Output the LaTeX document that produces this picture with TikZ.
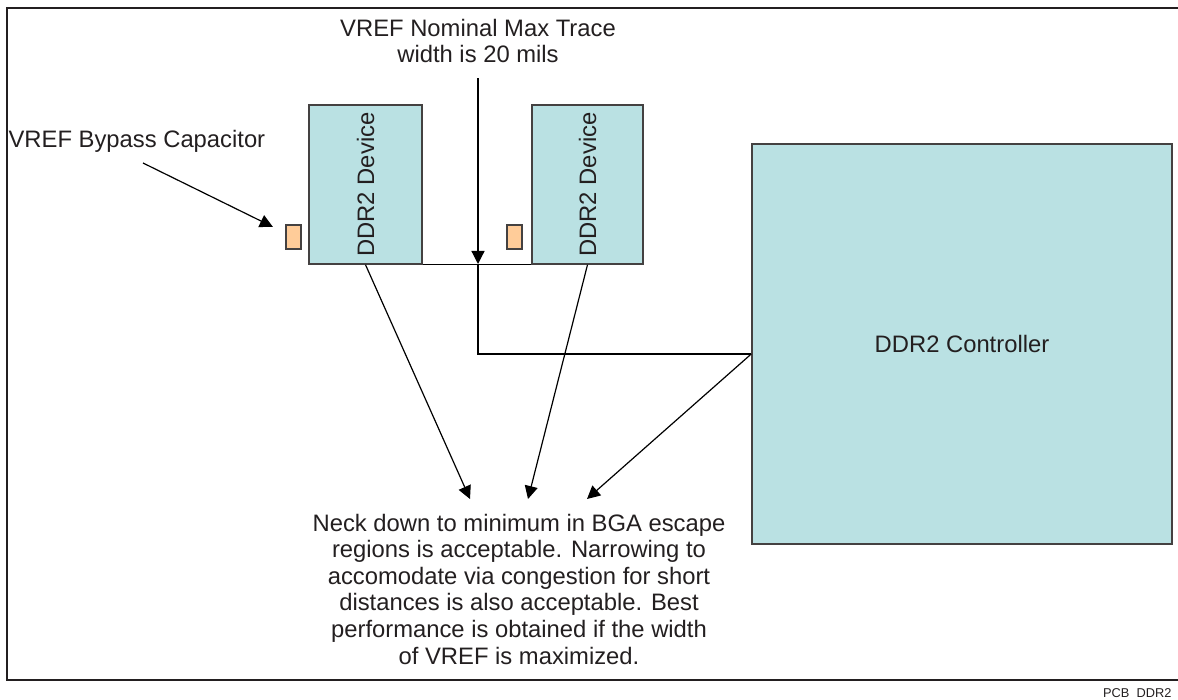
\documentclass[tikz,border=0pt]{standalone}
\usepackage{fontspec}
\setmainfont{Liberation Sans}
\usetikzlibrary{arrows.meta,calc}
\definecolor{chipfill}{RGB}{186,225,227}
\definecolor{capfill}{RGB}{255,204,153}
\definecolor{ink}{RGB}{35,31,32}

\begin{document}
\begin{tikzpicture}[x=0.5pt, y=-0.5pt, line width=0.6pt, line join=miter, text=ink,
    font=\fontsize{11.9}{13.3}\selectfont,
    chip/.style={draw=ink!85, line width=0.75pt, fill=chipfill, inner sep=0pt},
    bypasscap/.style={draw=ink!85, line width=0.6pt, fill=capfill, inner sep=0pt, minimum width=7.5pt, minimum height=12pt},
    arr/.style={-{Triangle[length=6.5pt,width=6.5pt]}}]
  \useasboundingbox (0,0) rectangle (1178,700);
  \draw[ink, line width=0.75pt] (1178,8) -- (7,8) -- (7,680) -- (1178,680);   % frame

  \node[chip, minimum width=56.5pt, minimum height=79.5pt] (dev1) at (365.5,184.5) {};
  \node[chip, minimum width=55.5pt, minimum height=79.5pt] (dev2) at (587.5,184.5) {};
  \node[chip, minimum width=210pt, minimum height=200pt] (ctrl) at (962,344) {DDR2 Controller};
  \foreach \d in {dev1,dev2} {
    \node[rotate=90] (\d txt) at (\d) {DDR2 Device};
  }
  \node[bypasscap] (cap1) at (293.5,237) {};
  \node[bypasscap] (cap2) at (514.5,237) {};

  \node[anchor=base west, inner sep=0pt] (caplbl) at (8,148) {VREF Bypass Capacitor};
  \node[align=center] (trace) at (478,41) {VREF Nominal Max Trace\\width is 20 mils};
  \node[align=center] (note) at (519,589) {Neck down to minimum in BGA escape\\regions is acceptable. Narrowing to\\accomodate via congestion for short\\distances is also acceptable. Best\\performance is obtained if the width\\of VREF is maximized.};
  \node[anchor=base east, inner sep=0pt, font=\fontsize{6.4}{7}\selectfont] (tag) at (1172,697) {PCB\ \ DDR2};

  \coordinate (captail) at (143,163);
  \coordinate (tee) at (478,264);
  \coordinate (bend) at (478,354);
  \coordinate (tip1) at (470,499);
  \coordinate (tip2) at (528,499);
  \coordinate (tip3) at (587,499);

  \draw[arr, shorten >=7pt] (captail) -- (cap1);
  \draw[arr, shorten <=4pt] (trace.south) -- (tee);
  \draw (dev1.south east) -- (dev2.south west);
  \draw (tee) -- (bend) -- (bend -| ctrl.west);
  \draw[arr] (dev1.south) -- (tip1);
  \draw[arr] (dev2.south) -- (tip2);
  \draw[arr] (bend -| ctrl.west) -- (tip3);
\end{tikzpicture}
\end{document}
